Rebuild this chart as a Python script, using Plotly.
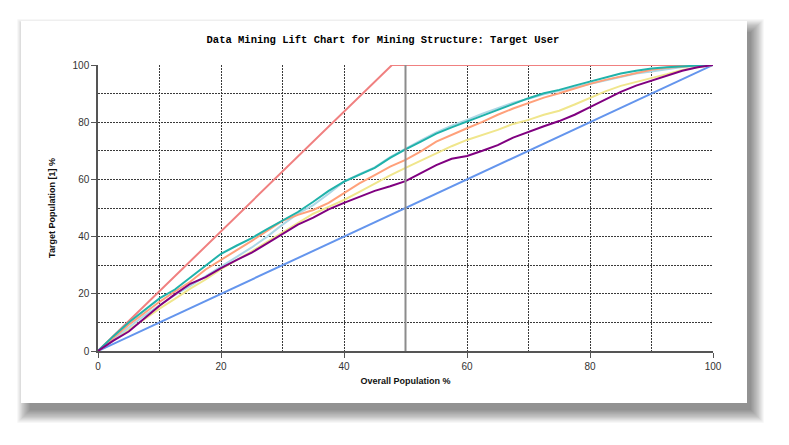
import plotly.graph_objects as go

# ---- data ----
x_pct = [0, 2.5, 5, 7.5, 10, 12.5, 15, 17.5, 20, 22.5, 25, 27.5, 30, 32.5, 35, 37.5, 40,
         42.5, 45, 47.5, 50, 52.5, 55, 57.5, 60, 62.5, 65, 67.5, 70, 72.5, 75, 77.5, 80,
         82.5, 85, 87.5, 90, 92.5, 95, 97.5, 100]

teal = [0, 5.2, 10.0, 14.2, 18.4, 21.5, 25.6, 29.8, 34.0, 36.8, 39.5, 42.6, 45.6, 48.6, 52.2,
        56.0, 59.2, 61.5, 64.0, 67.5, 70.5, 73.2, 76.0, 78.2, 80.2, 82.4, 84.3, 86.4, 88.4,
        90.1, 91.3, 92.8, 94.2, 95.8, 97.0, 98.0, 98.8, 99.2, 99.6, 99.8, 100]

light_blue = [0, 4.2, 8.4, 12.3, 16.0, 19.6, 22.8, 26.2, 29.3, 32.8, 36.2, 40.0, 44.2, 48.0,
              51.0, 55.0, 59.2, 61.8, 64.2, 67.8, 70.8, 73.6, 76.4, 78.8, 80.8, 83.0, 84.9,
              86.8, 88.2, 89.8, 91.0, 92.2, 93.6, 94.8, 96.0, 97.0, 97.7, 98.6, 99.3, 99.7, 100]

salmon = [0, 4.5, 9.2, 13.2, 17.2, 20.8, 24.2, 28.5, 32.0, 35.2, 38.5, 42.0, 45.5, 47.6, 49.3,
          51.8, 55.1, 58.6, 61.5, 64.5, 66.8, 69.8, 73.2, 75.6, 77.9, 80.1, 82.6, 84.8, 86.6,
          88.6, 90.1, 91.8, 93.4, 94.8, 95.9, 97.2, 98.3, 99.0, 99.5, 99.8, 100]

khaki = [0, 3.8, 7.5, 11.0, 14.8, 18.2, 21.8, 25.0, 28.6, 31.8, 34.8, 38.2, 41.5, 45.0, 48.0,
         50.4, 52.8, 55.6, 58.6, 61.4, 64.0, 66.6, 69.1, 71.6, 73.8, 75.6, 77.3, 79.4, 80.8,
         82.6, 84.0, 86.2, 88.4, 90.8, 92.7, 94.0, 95.3, 96.8, 98.3, 99.2, 100]

purple = [0, 3.6, 6.8, 11.2, 15.8, 19.8, 23.5, 25.8, 29.0, 31.8, 34.4, 37.6, 41.0, 44.2, 46.6,
          49.5, 51.8, 53.8, 56.0, 57.6, 59.4, 62.2, 65.0, 67.2, 68.2, 70.0, 72.0, 74.6, 76.7,
          78.6, 80.4, 82.6, 85.3, 88.0, 90.6, 92.8, 94.6, 96.2, 98.0, 99.2, 100]

ideal_x = [0, 47.8, 100]
ideal_y = [0, 100, 100]
random_x = [0, 100]
random_y = [0, 100]

title_text = "Data Mining Lift Chart for Mining Structure: Target User"
x_title = "Overall Population %"
y_title = "Target Population [1] %"

# ---- figure (page body adds an 8px offset, so sizes are reduced accordingly) ----
W, H = 773, 429
L, R, T, B = 90, 68, 57, 86
pw, ph = W - L - R, H - T - B


def px_x(p):
    return (p - L) / pw


def px_y(p):
    return (H - B - p) / ph


fig = go.Figure()

series = [
    (ideal_x, ideal_y, "#F08080"),
    (random_x, random_y, "#6495ED"),
    (x_pct, khaki, "#F0E68C"),
    (x_pct, light_blue, "#ADD8E6"),
    (x_pct, salmon, "#FFA07A"),
    (x_pct, teal, "#20B2AA"),
    (x_pct, purple, "#800080"),
]
for xs, ys, c in series:
    fig.add_trace(go.Scatter(x=xs, y=ys, mode="lines", cliponaxis=False,
                             line=dict(color=c, width=2), hoverinfo="skip",
                             showlegend=False))

shapes = []
# soft drop shadow (layered translucent rects, offset to lower right)
card = dict(x0=13, x1=739, y0=13, y1=395)
n = 12
for i in range(n):
    g = i * 1.15
    shapes.append(dict(
        type="rect", xref="paper", yref="paper", layer="below",
        x0=px_x(card["x0"] + 9 - g), x1=px_x(card["x1"] + 4 + g),
        y0=px_y(card["y1"] + 7 + g), y1=px_y(card["y0"] + 11 - g),
        fillcolor="rgba(0,0,0,0.042)", line=dict(width=0)))
# white card
shapes.append(dict(
    type="rect", xref="paper", yref="paper", layer="below",
    x0=px_x(card["x0"]), x1=px_x(card["x1"]),
    y0=px_y(card["y1"]), y1=px_y(card["y0"]),
    fillcolor="white", line=dict(width=0)))
# cursor line at 50
shapes.append(dict(type="line", xref="x", yref="paper", x0=50, x1=50, y0=0, y1=1,
                   layer="above", line=dict(color="#8c8c8c", width=2)))

axis_common = dict(
    range=[0, 100], dtick=20, tick0=0,
    showgrid=True, gridcolor="#3a3a3a", gridwidth=1, griddash="2px,1px",
    minor=dict(dtick=10, showgrid=True, gridcolor="#3a3a3a", gridwidth=1,
               griddash="2px,1px", ticks=""),
    zeroline=False, showline=True, linecolor="#555555", linewidth=1.5,
    ticks="outside", ticklen=5, tickcolor="#555555", tickwidth=1,
    tickfont=dict(family="Liberation Sans", size=10, color="#333333"),
    fixedrange=True,
)

fig.update_layout(
    width=W, height=H,
    margin=dict(l=L, r=R, t=T, b=B, pad=0),
    paper_bgcolor="white",
    plot_bgcolor="#F0F7FF",
    shapes=shapes,
    title=dict(text=title_text, x=px_x(375), xref="paper", xanchor="center",
               y=1 - 31 / H, yanchor="middle",
               font=dict(family="Liberation Mono", size=10.5, color="#000000",
                         weight="bold")),
    xaxis=dict(axis_common,
               title=dict(text=x_title, standoff=7,
                          font=dict(family="Liberation Sans", size=9, color="#111111",
                                    weight="bold"))),
    yaxis=dict(axis_common,
               title=dict(text=y_title, standoff=15,
                          font=dict(family="Liberation Sans", size=9, color="#111111",
                                    weight="bold"))),
    showlegend=False,
)

fig.write_html("out.html")
